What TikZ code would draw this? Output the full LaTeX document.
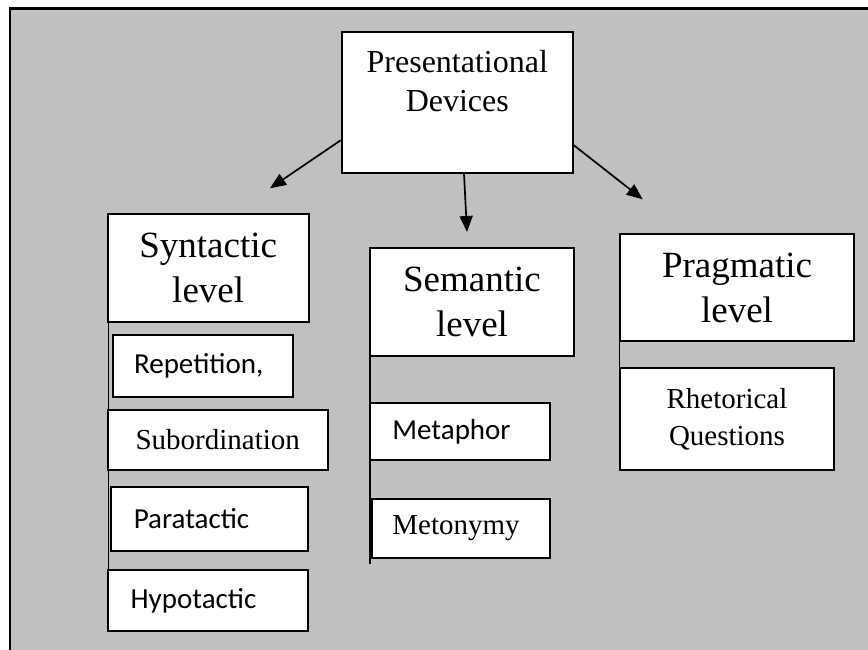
\documentclass[tikz,border=0pt]{standalone}
\usepackage{fontspec}
\setmainfont{Liberation Serif}
\newfontfamily\carlito{Carlito}
\usetikzlibrary{arrows.meta}
\pgfdeclarelayer{back}
\pgfsetlayers{back,main}

\tikzset{
  panel/.style={fill=panelgray, draw=black, line width=2.6pt},
  box/.style={draw=black, fill=white, line width=2pt, inner sep=0pt,
    anchor=north west, align=center},
  levelbox/.style={box, font=\fontsize{37}{45}\selectfont},
  itembox/.style={box, font=\fontsize{29}{37}\selectfont},
  sansitem/.style={itembox, font=\fontsize{29}{37}\selectfont\carlito},
  arrowline/.style={line width=1.7pt, -{Triangle[length=16pt,width=13pt]}},
  stem/.style={line width=1.2pt}
}
\definecolor{panelgray}{RGB}{192,192,192}

\begin{document}
\begin{tikzpicture}[x=1pt,y=-1pt]
\useasboundingbox (0,0) rectangle (868,650);

% root box, text kept in the upper part (baseline = last line)
\node[box, anchor=north, minimum width=231pt, minimum height=141pt,
      text height=80pt, text depth=61pt,
      font=\fontsize{32}{39}\selectfont] (root) at (457.3,30.7)
      {Presentational\\Devices};

% three levels
\node[levelbox, minimum width=201pt, minimum height=108pt] (syn) at (106.7,213) {Syntactic\\level};
\node[levelbox, minimum width=204pt, minimum height=108pt] (sem) at (369,247) {Semantic\\level};
\node[levelbox, minimum width=234pt, minimum height=107pt] (prag) at (619,233) {Pragmatic\\level};

% syntactic devices
\node[sansitem, minimum width=180pt, minimum height=62pt] (rep) at (111.7,334) {Repetition,\hspace{8pt}};
\node[itembox, minimum width=220pt, minimum height=60pt] (sub) at (106.7,409) {Subordination};
\node[sansitem, minimum width=197pt, minimum height=64pt] (par) at (110,486) {Paratactic\hspace{36pt}};
\node[sansitem, minimum width=200pt, minimum height=61pt] (hyp) at (107,569) {Hypotactic\hspace{29pt}};

% semantic devices
\node[sansitem, minimum width=180pt, minimum height=57pt] (met) at (369,402) {Metaphor\hspace{17pt}};
\node[itembox, minimum width=178pt, minimum height=59pt] (mto) at (371,498) {Metonymy\hspace{10pt}};

% pragmatic devices
\node[itembox, minimum width=214pt, minimum height=102pt] (rhet) at (619,367) {Rhetorical\\Questions};

% arrow ends
\coordinate (tipL) at (270,188.3);
\coordinate (tipM) at (467,232);
\coordinate (tipR) at (642.7,199.3);

\draw[arrowline] ([yshift=-38pt]root.west) -- (tipL);
\draw[arrowline] ([xshift=6.7pt]root.south) -- (tipM);
\draw[arrowline] ([yshift=-43pt]root.east) -- (tipR);

\begin{pgfonlayer}{back}
  % grey panel with its frame running off the page
  \draw[panel] (9.8,8.7) rectangle (890,670);
  % stems joining each level to its devices
  \draw[stem] ([xshift=2pt,yshift=5pt]syn.south west) -- ([xshift=2pt]syn.south west |- hyp.north);
  \draw[stem] ([xshift=1pt]sem.south west) -- ([xshift=1pt,yshift=-5pt]sem.south west |- mto.south);
  \draw[stem] ([xshift=0.5pt]prag.south west) -- ([xshift=0.5pt]prag.south west |- rhet.north);
\end{pgfonlayer}
\end{tikzpicture}
\end{document}
